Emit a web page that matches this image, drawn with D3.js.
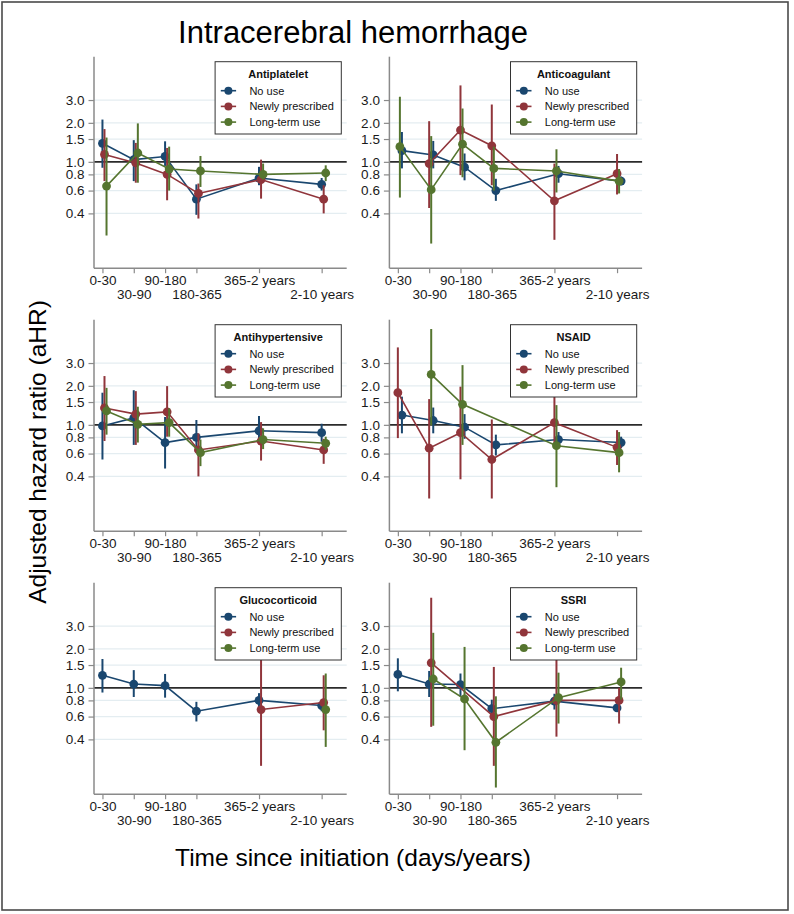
<!DOCTYPE html>
<html><head><meta charset="utf-8">
<script src="https://cdn.jsdelivr.net/npm/d3@7"></script>
<style>body{margin:0;background:#fff} svg{display:block} text{font-family:"Liberation Sans",Arial,Helvetica,sans-serif}</style>
</head><body><svg id="c" width="794" height="914"></svg>
<script>
const chartTitle = "Intracerebral hemorrhage";
const yLabel = "Adjusted hazard ratio (aHR)";
const xLabel = "Time since initiation (days/years)";
const categories = ["0-30","30-90","90-180","180-365","365-2 years","2-10 years"];
const catPos = [0,1,2,3,5,7];
const seriesNames = ["No use","Newly prescribed","Long-term use"];
const seriesColors = ["#1a476f","#90353b","#55752f"];
const yTicks = [0.4,0.6,0.8,1.0,1.5,2.0,3.0];
const yTickLabels = ["0.4","0.6","0.8","1.0","1.5","2.0","3.0"];
const panelTitles = ["Antiplatelet","Anticoagulant","Antihypertensive","NSAID","Glucocorticoid","SSRI"];

// [No use, Newly prescribed, Long-term use]
const antiplateletHR = [[1.39,1.04,1.10,0.515,0.75,0.67],[1.14,0.98,0.80,0.57,0.73,0.515],[0.65,1.17,0.88,0.85,0.80,0.82]];
const antiplateletLo = [[0.90,0.71,0.93,0.39,0.66,0.60],[0.71,0.69,0.505,0.365,0.52,0.40],[0.27,0.69,0.60,0.64,0.73,0.71]];
const antiplateletHi = [[2.12,1.47,1.44,0.67,0.915,0.75],[1.79,1.40,1.28,0.68,1.04,0.66],[1.54,1.98,1.31,1.11,0.97,0.94]];

const anticoagulantHR = [[1.22,1.13,0.91,0.60,0.81,0.71],[null,0.97,1.76,1.33,0.50,0.81],[1.31,0.61,1.37,0.89,0.85,0.71]];
const anticoagulantLo = [[0.89,0.89,0.72,0.50,0.69,0.66],[null,0.44,0.79,0.66,0.25,0.56],[0.53,0.234,0.76,0.60,0.58,0.57]];
const anticoagulantHi = [[1.70,1.45,1.16,0.74,0.93,0.77],[null,2.06,3.89,2.77,0.97,1.15],[3.18,1.58,2.58,1.31,1.25,0.88]];

const antihypertensiveHR = [[0.98,1.13,0.73,0.80,0.90,0.87],[1.35,1.21,1.26,0.64,0.75,0.64],[1.28,1.01,1.04,0.61,0.77,0.72]];
const antihypertensiveLo = [[0.54,0.70,0.46,0.64,0.74,0.74],[0.75,0.70,0.81,0.40,0.53,0.50],[0.84,0.73,0.81,0.48,0.65,0.64]];
const antihypertensiveHi = [[1.77,1.85,1.15,1.09,1.17,1.02],[2.38,1.82,1.99,0.86,1.05,0.78],[1.93,1.38,1.34,0.77,0.94,0.81]];

const nsaidHR = [[1.19,1.08,0.96,0.70,0.77,0.73],[1.77,0.66,0.87,0.54,1.04,0.67],[null,2.45,1.44,null,0.69,0.61]];
const nsaidLo = [[0.86,0.86,0.78,0.58,0.68,0.66],[0.79,0.27,0.38,0.27,0.66,0.49],[null,0.99,0.70,null,0.33,0.43]];
const nsaidHi = [[1.65,1.36,1.21,0.84,0.88,0.81],[3.96,1.58,1.97,1.10,1.67,0.91],[null,5.49,2.89,null,1.42,0.88]];

const glucocorticoidHR = [[1.25,1.07,1.04,0.66,0.80,0.73],[null,null,null,null,0.68,0.77],[null,null,null,null,null,0.68]];
const glucocorticoidLo = [[0.92,0.85,0.84,0.55,0.69,0.66],[null,null,null,null,0.25,0.47],[null,null,null,null,null,0.35]];
const glucocorticoidHi = [[1.67,1.37,1.28,0.78,0.91,0.78],[null,null,null,null,1.79,1.25],[null,null,null,null,null,1.29]];

const ssriHR = [[1.27,1.07,1.06,0.69,0.79,0.70],[null,1.56,null,0.60,0.80,0.80],[null,1.17,0.82,0.38,0.84,1.11]];
const ssriLo = [[0.94,0.85,0.86,0.57,0.68,0.66],[null,0.50,null,0.25,0.42,0.53],[null,0.51,0.33,0.17,0.53,0.81]];
const ssriHi = [[1.69,1.35,1.29,0.81,0.90,0.77],[null,4.96,null,1.45,1.71,1.00],[null,2.66,2.07,0.86,1.31,1.43]];

// small horizontal dodge of the three series (x units)
const dodgeDefault = [0, 0.065, 0.13];
const dodgeRedFirst = [0.13, 0, 0.065];

const panelHR = [antiplateletHR, anticoagulantHR, antihypertensiveHR, nsaidHR, glucocorticoidHR, ssriHR];
const panelLo = [antiplateletLo, anticoagulantLo, antihypertensiveLo, nsaidLo, glucocorticoidLo, ssriLo];
const panelHi = [antiplateletHi, anticoagulantHi, antihypertensiveHi, nsaidHi, glucocorticoidHi, ssriHi];
const panelDodge = [dodgeDefault, dodgeRedFirst, dodgeDefault, dodgeRedFirst, dodgeDefault, dodgeDefault];

const svg = d3.select("#c");
svg.append("rect").attr("x",2).attr("y",2).attr("width",786).attr("height",908)
  .attr("fill","#fff").attr("stroke","#4a4a4a").attr("stroke-width",1.6);

svg.append("text").attr("x",353).attr("y",43).attr("text-anchor","middle")
  .attr("font-size",31).attr("fill","#000").text(chartTitle);
svg.append("text").attr("transform","translate(46,452) rotate(-90)").attr("text-anchor","middle")
  .attr("font-size",24.5).attr("fill","#000").text(yLabel);
svg.append("text").attr("x",353).attr("y",866).attr("text-anchor","middle")
  .attr("font-size",24.5).attr("fill","#000").text(xLabel);

const colX = [94, 389.4];
const plotW = 252.7;
const rowTop = 56.7, rowH = 211.5, rowStep = 263;
const xDomain = [-0.27, 7.8];
const yDomain = [0.151, 6.48];

panelTitles.forEach((title, p) => {
  const c = p % 2, r = Math.floor(p / 2);
  const x0 = colX[c], x1 = x0 + plotW;
  const yT = rowTop + r * rowStep, yB = yT + rowH;
  const x = d3.scaleLinear().domain(xDomain).range([x0, x1]);
  const y = d3.scaleLog().domain(yDomain).range([yB, yT]);
  const g = svg.append("g");

  // gridlines
  g.selectAll("line.grid").data(yTicks.filter(t => t !== 1)).join("line")
    .attr("x1", x0).attr("x2", x1).attr("y1", d => y(d)).attr("y2", d => y(d))
    .attr("stroke", "#e4edf1").attr("stroke-width", 1.2);
  // reference line at 1
  g.append("line").attr("x1", x0).attr("x2", x1).attr("y1", y(1)).attr("y2", y(1))
    .attr("stroke", "#2b2b2b").attr("stroke-width", 1.6);

  // y axis
  const yAxis = d3.axisLeft(y).tickValues(yTicks).tickFormat((d, i) => yTickLabels[i]).tickSize(5.5).tickPadding(4);
  const ya = g.append("g").attr("transform", `translate(${x0},0)`).call(yAxis);
  ya.select(".domain").attr("stroke", "#8a8a8a").attr("stroke-width", 1.5).attr("d", `M0,${yT}V${yB}`);
  ya.selectAll(".tick line").attr("stroke", "#8a8a8a").attr("stroke-width", 1.2);
  ya.selectAll(".tick text").attr("font-size", 13.5).attr("fill", "#1a1a1a")
    .attr("font-family", '"Liberation Sans",Arial,sans-serif');

  // x axis
  const xAxis = d3.axisBottom(x).tickValues(catPos).tickFormat((d, i) => categories[i]).tickSize(5).tickPadding(3);
  const xa = g.append("g").attr("transform", `translate(0,${yB})`).call(xAxis);
  xa.select(".domain").attr("stroke", "#8a8a8a").attr("stroke-width", 1.5).attr("d", `M${x0},0H${x1}`);
  xa.selectAll(".tick line").attr("stroke", "#8a8a8a").attr("stroke-width", 1.2);
  xa.selectAll(".tick text").attr("font-size", 13.5).attr("fill", "#1a1a1a")
    .attr("font-family", '"Liberation Sans",Arial,sans-serif')
    .attr("dy", null)
    .attr("y", (d, i) => i % 2 === 0 ? 17 : 31.3);

  // series
  const HR = panelHR[p], LO = panelLo[p], HI = panelHi[p], dodge = panelDodge[p];
  HR.forEach((vals, s) => {
    const pts = vals.map((v, i) => ({ xv: catPos[i] + dodge[s], v, lo: LO[s][i], hi: HI[s][i] }))
      .filter(d => d.v != null);
    const col = seriesColors[s];
    g.append("g").selectAll("line").data(pts).join("line")
      .attr("x1", d => x(d.xv)).attr("x2", d => x(d.xv))
      .attr("y1", d => y(d.lo)).attr("y2", d => y(d.hi))
      .attr("stroke", col).attr("stroke-width", 2);
    g.append("path").datum(pts)
      .attr("d", d3.line().x(d => x(d.xv)).y(d => y(d.v)))
      .attr("fill", "none").attr("stroke", col).attr("stroke-width", 1.6);
    g.append("g").selectAll("circle").data(pts).join("circle")
      .attr("cx", d => x(d.xv)).attr("cy", d => y(d.v)).attr("r", 4.4).attr("fill", col);
  });

  // legend
  const bx = x1 - 131.6, by = yT + 5, bw = 126.2, bh = 72.3;
  const lg = g.append("g");
  lg.append("rect").attr("x", bx).attr("y", by).attr("width", bw).attr("height", bh)
    .attr("fill", "#fff").attr("stroke", "#333").attr("stroke-width", 1);
  lg.append("text").attr("x", bx + bw / 2).attr("y", by + 16.6).attr("text-anchor", "middle")
    .attr("font-size", 11).attr("font-weight", "bold").attr("fill", "#111").text(title);
  seriesNames.forEach((n, s) => {
    const cy = by + 29 + s * 15.7;
    lg.append("line").attr("x1", bx + 5.7).attr("x2", bx + 21).attr("y1", cy).attr("y2", cy)
      .attr("stroke", seriesColors[s]).attr("stroke-width", 1.6);
    lg.append("circle").attr("cx", bx + 13.3).attr("cy", cy).attr("r", 4).attr("fill", seriesColors[s]);
    lg.append("text").attr("x", bx + 34.3).attr("y", cy + 4).attr("font-size", 11)
      .attr("fill", "#111").text(n);
  });
});
</script>
</body></html>
